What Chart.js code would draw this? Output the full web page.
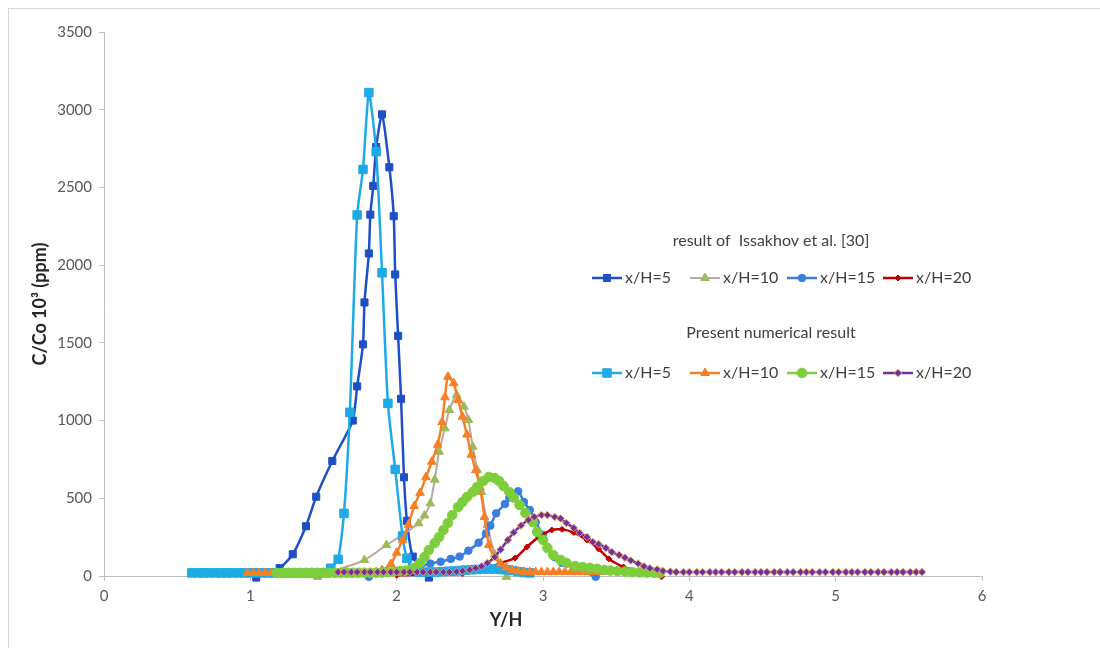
<!DOCTYPE html>
<html>
<head>
<meta charset="utf-8">
<script src="https://cdn.jsdelivr.net/npm/chart.js@4"></script>
<style>
  body { margin: 0; background: #fff; }
  #frame { position: absolute; left: 8px; top: 8px; width: 1200px; height: 700px; border: 1px solid #d9d9d9; }
  #c { position: absolute; left: 0; top: 0; }
</style>
</head>
<body>
<div id="frame"></div>
<canvas id="c" width="1100" height="648"></canvas>
<script>
// Issakhov et al. [30]
var iss5X = [1.04,1.20,1.29,1.38,1.45,1.56,1.70,1.73,1.77,1.78,1.81,1.82,1.84,1.86,1.90,1.95,1.98,1.99,2.01,2.03,2.05,2.07,2.11,2.22];
var iss5Y = [-10,50,140,320,510,740,1000,1220,1490,1760,2075,2325,2510,2760,2970,2630,2315,1940,1545,1140,635,355,125,-10];

var iss10X = [1.46,1.78,1.93,2.04,2.15,2.19,2.23,2.26,2.29,2.33,2.36,2.41,2.46,2.49,2.52,2.55,2.58,2.62,2.67,2.75];
var iss10Y = [-5,103,199,265,339,390,467,620,800,950,1068,1164,1089,1004,832,682,540,330,140,-5];

var iss15X = [1.81,2.16,2.23,2.30,2.37,2.43,2.49,2.56,2.61,2.64,2.68,2.74,2.77,2.83,2.87,2.91,2.95,3.00,3.03,3.08,3.13,3.36];
var iss15Y = [-5,60,80,92,110,125,163,214,274,324,403,463,504,545,476,425,347,264,187,122,84,-5];

var iss20X = [2.00,2.22,2.45,2.60,2.71,2.81,2.89,2.97,3.06,3.13,3.21,3.30,3.38,3.45,3.55,3.81];
var iss20Y = [5,8,15,40,84,116,187,250,296,300,280,232,174,110,58,-5];

// Present numerical result
var pre5X = [0.60,0.64,0.68,0.72,0.76,0.80,0.84,0.88,0.92,0.96,1.00,1.04,1.08,1.12,1.16,1.20,1.24,1.28,1.32,1.36,1.40,1.44,1.48,1.52,
  1.55,1.60,1.64,1.68,1.73,1.77,1.81,1.86,1.90,1.94,1.99,2.04,2.07,2.11,
  2.15,2.19,2.23,2.27,2.31,2.35,2.39,2.43,2.47,2.51,2.55,2.59,2.63,2.67,2.71,2.75,2.79,2.83,2.87,2.91];
var pre5Y = [20,20,20,20,20,20,20,20,20,20,20,20,20,20,20,20,20,20,20,20,20,20,20,20,
  50,107,403,1053,2323,2616,3110,2730,1951,1111,686,257,114,50,
  25,25,25,25,28,30,32,35,38,40,42,45,45,45,42,40,35,28,22,20];

var pre10X = [0.98,1.02,1.06,1.10,1.14,1.18,1.22,1.26,1.30,1.34,1.38,1.42,1.46,1.50,1.54,1.58,1.62,1.66,1.70,1.74,1.78,1.82,1.86,
  1.90,1.96,2.00,2.04,2.08,2.12,2.16,2.20,2.24,2.28,2.31,2.33,2.35,2.39,2.42,2.45,2.48,2.51,2.54,2.57,2.60,2.63,2.67,2.71,2.75,2.79,
  2.83,2.87,2.91,2.95,2.99,3.03,3.07,3.11,3.15,3.19,3.23,3.27,3.31,3.35,3.39];
var pre10Y = [20,20,20,20,20,20,20,20,20,20,20,20,20,20,20,20,20,20,20,20,20,20,25,
  38,77,150,230,330,450,535,635,735,845,990,1150,1282,1240,1132,1025,910,780,680,570,380,200,120,80,55,40,
  30,28,26,25,25,25,25,25,25,25,25,25,25,25,25];

var pre15X = [1.18,1.22,1.26,1.30,1.34,1.38,1.42,1.46,1.50,1.54,1.58,1.62,1.66,1.70,1.74,1.78,1.82,1.86,1.90,1.94,1.98,2.02,
  2.06,2.09,2.12,2.16,2.19,2.22,2.26,2.29,2.32,2.35,2.38,2.42,2.45,2.48,2.52,2.55,2.59,2.63,2.67,2.70,2.73,2.77,2.80,2.84,2.88,
  2.93,2.96,3.00,3.03,3.07,3.12,3.16,3.22,3.27,3.32,3.37,3.42,3.46,3.51,3.56,3.61,3.66,3.71,3.76,3.80];
var pre15Y = [20,20,20,20,20,20,20,20,20,20,20,20,20,20,20,20,20,20,22,25,28,32,
  34,40,50,84,122,167,212,251,296,341,392,444,476,508,540,573,610,637,630,611,579,540,505,457,405,
  347,283,232,180,135,103,84,64,58,52,46,39,35,31,28,25,23,22,20,20];

var pre20X = [1.60,1.64,1.69,1.73,1.78,1.82,1.87,1.91,1.96,2.00,2.05,2.09,2.14,2.18,2.23,2.27,2.32,2.36,2.41,2.45,2.50,2.54,
  2.58,2.62,2.67,2.71,2.76,2.80,2.85,2.90,2.94,2.99,3.03,3.08,3.12,3.16,3.21,3.25,3.30,3.34,3.38,3.43,3.47,3.52,3.56,3.60,3.65,
  3.69,3.73,3.78,3.82,3.87,3.91,3.96,4.00,4.05,4.09,4.14,4.18,4.22,4.27,4.31,4.36,4.40,4.45,4.49,4.53,4.58,4.62,4.67,4.71,4.76,
  4.80,4.84,4.89,4.93,4.98,5.02,5.07,5.11,5.15,5.20,5.24,5.29,5.33,5.38,5.42,5.46,5.51,5.55,5.59];
var pre20Y = [25,25,25,25,25,25,25,25,25,25,25,25,25,25,25,25,25,25,28,32,40,50,
  62,84,122,170,232,280,325,360,380,392,392,380,370,341,309,277,251,219,205,180,154,135,118,100,80,
  62,50,42,32,28,25,25,25,25,25,25,25,25,25,25,25,25,25,25,25,25,25,25,25,25,
  25,25,25,25,25,25,25,25,25,25,25,25,25,25,25,25,25,25,25];

var xTicks = [0, 1, 2, 3, 4, 5, 6];
var yTicks = [0, 500, 1000, 1500, 2000, 2500, 3000, 3500];

var seriesNames = ['x/H=5', 'x/H=10', 'x/H=15', 'x/H=20'];
var groupTitles = ['result of  Issakhov et al. [30]', 'Present numerical result'];

var series = [
  { x: iss5X,  y: iss5Y,  line: '#1f4fc6', fill: '#1f4fc6', style: 'rect',     r: 5,   w: 2.5, order: 7 },
  { x: iss10X, y: iss10Y, line: '#c0a5a5', fill: '#9bbb59', style: 'triangle', r: 5,   w: 2,   order: 6 },
  { x: iss15X, y: iss15Y, line: '#3a7fe0', fill: '#3a7fe0', style: 'circle',   r: 3.8, w: 2.5, order: 5 },
  { x: iss20X, y: iss20Y, line: '#c00000', fill: '#c00000', style: 'rectRot',  r: 3,   w: 2.5, order: 4 },
  { x: pre5X,  y: pre5Y,  line: '#1eaae6', fill: '#1eaae6', style: 'rect',     r: 6,   w: 2.5, order: 3 },
  { x: pre10X, y: pre10Y, line: '#f58025', fill: '#f58025', style: 'triangle', r: 5,   w: 2.5, order: 2 },
  { x: pre15X, y: pre15Y, line: '#7ccf3a', fill: '#7ccf3a', style: 'circle',   r: 4.8, w: 2.5, order: 1 },
  { x: pre20X, y: pre20Y, line: '#7030a0', fill: '#7030a0', style: 'rectRot',  r: 3.8, w: 2.5, order: 0, edge: '#e8a060' }
];

var datasets = series.map(function (s, i) {
  return {
    label: groupTitles[Math.floor(i / 4)] + ' ' + seriesNames[i % 4],
    data: s.x.map(function (v, k) { return { x: v, y: s.y[k] }; }),
    borderColor: s.line,
    borderWidth: s.w,
    pointStyle: s.style,
    pointRadius: s.r,
    pointBackgroundColor: s.fill,
    pointBorderColor: s.edge || s.fill,
    pointBorderWidth: 1,
    tension: 0.2,
    clip: false,
    order: s.order
  };
});

// legend boxes in the plot area + axis titles
var legendPlugin = {
  id: 'excelLegend',
  afterDraw: function (chart) {
    var ctx = chart.ctx;
    var rows = [{ ty: 241, y: 278 }, { ty: 333, y: 373 }];
    var cols = [592, 690, 787, 883];
    ctx.save();
    ctx.font = '16px Lato';
    ctx.textBaseline = 'middle';
    rows.forEach(function (row, g) {
      ctx.fillStyle = '#404040';
      ctx.textAlign = 'center';
      ctx.fillText(groupTitles[g], 771, row.ty);
      for (var j = 0; j < 4; j++) {
        var s = series[g * 4 + j];
        var lx = cols[j];
        ctx.strokeStyle = s.line;
        ctx.lineWidth = s.w;
        ctx.beginPath();
        ctx.moveTo(lx, row.y);
        ctx.lineTo(lx + 30, row.y);
        ctx.stroke();
        ctx.fillStyle = s.fill;
        ctx.strokeStyle = s.edge || s.fill;
        ctx.lineWidth = 1;
        Chart.helpers.drawPoint(ctx, { pointStyle: s.style, radius: s.r, rotation: 0, borderWidth: 1 }, lx + 15, row.y);
        ctx.fillStyle = '#404040';
        ctx.textAlign = 'left';
        ctx.fillText(seriesNames[j], lx + 33, row.y);
      }
    });
    // axis titles
    ctx.fillStyle = '#262626';
    ctx.font = 'bold 18px Lato';
    ctx.textAlign = 'center';
    ctx.fillText('Y/H', 506, 620);
    ctx.translate(40, 304);
    ctx.rotate(-Math.PI / 2);
    ctx.fillText('C/Co 10³ (ppm)', 0, 0);
    ctx.restore();
  }
};

var tickFont = { family: 'Lato', size: 15 };
var plainLabel = function (v) { return String(v); };

new Chart(document.getElementById('c').getContext('2d'), {
  type: 'line',
  data: { datasets: datasets },
  options: {
    responsive: false,
    animation: false,
    devicePixelRatio: 1,
    layout: { padding: { left: 0, top: 32, right: 118, bottom: 0 } },
    plugins: { legend: { display: false }, tooltip: { enabled: false } },
    scales: {
      x: {
        type: 'linear',
        min: xTicks[0],
        max: xTicks[xTicks.length - 1],
        afterBuildTicks: function (scale) { scale.ticks = xTicks.map(function (v) { return { value: v }; }); },
        afterFit: function (scale) { scale.height = 72; },
        grid: { drawOnChartArea: false, tickLength: 5, color: '#bfbfbf' },
        border: { color: '#bfbfbf' },
        ticks: { padding: 6, color: '#595959', font: tickFont, callback: plainLabel }
      },
      y: {
        type: 'linear',
        min: yTicks[0],
        max: yTicks[yTicks.length - 1],
        afterBuildTicks: function (scale) { scale.ticks = yTicks.map(function (v) { return { value: v }; }); },
        afterFit: function (scale) { scale.width = 104; },
        grid: { drawOnChartArea: false, tickLength: 5, color: '#bfbfbf' },
        border: { color: '#bfbfbf' },
        ticks: { padding: 7, color: '#595959', font: tickFont, callback: plainLabel }
      }
    }
  },
  plugins: [legendPlugin]
});
</script>
</body>
</html>
